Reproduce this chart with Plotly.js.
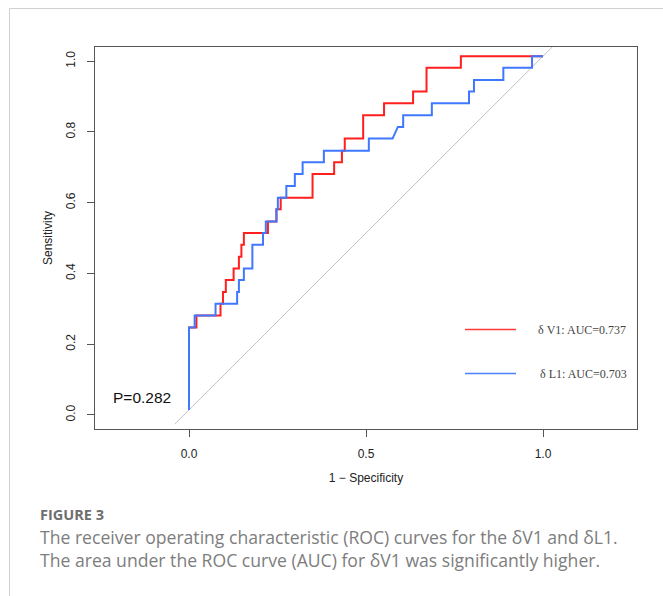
<!DOCTYPE html>
<html>
<head>
<meta charset="utf-8">
<script src="https://cdn.plot.ly/plotly-3.0.1.min.js"></script>
<style>
  html, body { margin: 0; padding: 0; background: #ffffff; }
  #chart { width: 663px; height: 596px; }
</style>
</head>
<body>
<div id="chart"></div>
<script>
// ---------- data ----------
const xTickVals = [0, 0.5, 1];
const xTickText = ['0.0', '0.5', '1.0'];
const yTickVals = [0, 0.2, 0.4, 0.6, 0.8, 1.0];
const yTickText = ['0.0', '0.2', '0.4', '0.6', '0.8', '1.0'];

// δV1 ROC curve: 1 - specificity (x) and sensitivity (y) path points
const redFPR = [0,0,0.021,0.021,0.089,0.089,0.096,0.096,0.104,0.104,0.126,0.126,0.141,0.141,0.148,0.148,0.155,0.155,0.223,0.223,0.247,0.247,0.259,0.259,0.349,0.349,0.410,0.410,0.432,0.432,0.440,0.440,0.492,0.492,0.551,0.551,0.633,0.633,0.671,0.671,0.768,0.768,1];
const redTPR = [0,0.233,0.233,0.267,0.267,0.3,0.3,0.333,0.333,0.367,0.367,0.4,0.4,0.433,0.433,0.467,0.467,0.5,0.5,0.533,0.533,0.567,0.567,0.6,0.6,0.667,0.667,0.7,0.7,0.733,0.733,0.767,0.767,0.833,0.833,0.867,0.867,0.9,0.9,0.967,0.967,1,1];

// δL1 ROC curve
const blueFPR = [0,0,0.016,0.016,0.075,0.075,0.136,0.136,0.141,0.141,0.155,0.155,0.179,0.179,0.209,0.209,0.217,0.217,0.247,0.247,0.251,0.251,0.275,0.275,0.299,0.299,0.321,0.321,0.381,0.381,0.508,0.508,0.575,0.590,0.605,0.605,0.686,0.686,0.791,0.791,0.805,0.805,0.888,0.888,0.969,0.969,1];
const blueTPR = [0,0.233,0.233,0.267,0.267,0.3,0.3,0.333,0.333,0.367,0.367,0.4,0.4,0.467,0.467,0.5,0.5,0.533,0.533,0.567,0.567,0.6,0.6,0.633,0.633,0.667,0.667,0.7,0.7,0.733,0.733,0.767,0.767,0.8,0.8,0.833,0.833,0.867,0.867,0.9,0.9,0.933,0.933,0.967,0.967,1,1];

// chance diagonal
const diagX = [-0.04, 1.06];
const diagY = [-0.04, 1.06];

const seriesNames = ['δ V1: AUC=0.737', 'δ L1: AUC=0.703'];
const pValueText = 'P=0.282';
const xTitle = '1 − Specificity';
const yTitle = 'Sensitivity';
const figLabel = 'FIGURE 3';
const captionLines = [
  'The receiver operating characteristic (ROC) curves for the δV1 and δL1.',
  'The area under the ROC curve (AUC) for δV1 was significantly higher.'
];

// ---------- layout helpers ----------
const W = 663, H = 596;
const M = { l: 95, r: 26, t: 47, b: 167 };
const PW = W - M.l - M.r, PH = H - M.t - M.b;
const px = v => (v - M.l) / PW;          // page pixel x -> paper x
const py = v => 1 - (v - M.t) / PH;      // page pixel y -> paper y
const curveYOffset = 0.014;              // the curve layer sits slightly above the axis frame in the reference
const xUnitPx = 354;                     // pixels per unit on the x axis (asp = 1 look)
const xMin = -94 / xUnitPx, xMax = xMin + PW / xUnitPx;

const RED = '#ff1f1f', BLUE = '#3f78ff';
const SANS = 'Liberation Sans, Arial, Helvetica, sans-serif';
const SERIF = 'Liberation Serif, Times New Roman, serif';
const CAP = 'Open Sans, Noto Sans, sans-serif';

const traces = [
  // carrier for the visible frame axes
  { x: [], y: [], xaxis: 'x', yaxis: 'y', mode: 'lines', hoverinfo: 'skip', showlegend: false },
  { x: diagX, y: diagY, yaxis: 'y2', mode: 'lines', line: { color: '#c2c2c2', width: 1 }, hoverinfo: 'skip', showlegend: false },
  { x: redFPR, y: redTPR, yaxis: 'y2', mode: 'lines', name: seriesNames[0], line: { color: RED, width: 2 }, showlegend: false },
  { x: blueFPR, y: blueTPR, yaxis: 'y2', mode: 'lines', name: seriesNames[1], line: { color: BLUE, width: 2 }, showlegend: false }
];

const axisCommon = {
  showgrid: false, zeroline: false,
  showline: true, mirror: true, linecolor: '#555', linewidth: 1,
  ticks: 'outside', ticklen: 7, tickcolor: '#555', tickwidth: 1,
  tickfont: { family: SANS, size: 12, color: '#222' },
  fixedrange: true
};

const layout = {
  width: W, height: H,
  margin: M,
  paper_bgcolor: '#ffffff', plot_bgcolor: '#ffffff',
  showlegend: false,
  xaxis: Object.assign({}, axisCommon, {
    range: [xMin, xMax],
    tickmode: 'array', tickvals: xTickVals, ticktext: xTickText,
    ticklabelstandoff: 7,
    title: { text: xTitle, font: { family: SANS, size: 12, color: '#222' }, standoff: 13 }
  }),
  yaxis: Object.assign({}, axisCommon, {
    range: [-0.04, 1.04],
    tickmode: 'array', tickvals: yTickVals, ticktext: yTickText,
    tickangle: -90,
    ticklabelstandoff: 7,
    title: { text: yTitle, font: { family: SANS, size: 12, color: '#222' }, standoff: 9 }
  }),
  yaxis2: {
    overlaying: 'y', range: [-0.04 - curveYOffset, 1.04 - curveYOffset],
    visible: false, fixedrange: true
  },
  shapes: [
    // page frame lines
    { type: 'line', xref: 'paper', yref: 'paper', x0: px(9.5), x1: px(9.5), y0: py(8.5), y1: py(H + 5), line: { color: '#d0d0d0', width: 1 } },
    { type: 'line', xref: 'paper', yref: 'paper', x0: px(9.5), x1: px(W + 5), y0: py(8.5), y1: py(8.5), line: { color: '#d0d0d0', width: 1 } },
    // legend keys
    { type: 'line', xref: 'paper', yref: 'paper', x0: px(465), x1: px(516), y0: py(329.5), y1: py(329.5), line: { color: '#ff3a3a', width: 1.3 } },
    { type: 'line', xref: 'paper', yref: 'paper', x0: px(465), x1: px(516), y0: py(373.5), y1: py(373.5), line: { color: '#4f80ff', width: 1.3 } }
  ],
  annotations: [
    { xref: 'paper', yref: 'paper', x: px(536), y: py(330), xanchor: 'left', yanchor: 'middle', showarrow: false,
      text: seriesNames[0], font: { family: SERIF, size: 12, color: '#444' } },
    { xref: 'paper', yref: 'paper', x: px(538), y: py(374), xanchor: 'left', yanchor: 'middle', showarrow: false,
      text: seriesNames[1], font: { family: SERIF, size: 12, color: '#444' } },
    { xref: 'paper', yref: 'paper', x: px(111), y: py(397), xanchor: 'left', yanchor: 'middle', showarrow: false,
      text: pValueText, font: { family: SANS, size: 15.5, color: '#111' } },
    { xref: 'paper', yref: 'paper', x: px(38), y: py(514), xanchor: 'left', yanchor: 'middle', showarrow: false,
      text: '<b>' + figLabel + '</b>', font: { family: CAP, size: 14.5, color: '#6e6e6e' } },
    { xref: 'paper', yref: 'paper', x: px(38), y: py(537), xanchor: 'left', yanchor: 'middle', showarrow: false,
      text: captionLines[0], font: { family: CAP, size: 17.6, color: '#7d7d7d' } },
    { xref: 'paper', yref: 'paper', x: px(38), y: py(560), xanchor: 'left', yanchor: 'middle', showarrow: false,
      text: captionLines[1], font: { family: CAP, size: 17.6, color: '#7d7d7d' } }
  ]
};

Plotly.newPlot('chart', traces, layout, { staticPlot: true, displayModeBar: false });
</script>
</body>
</html>
